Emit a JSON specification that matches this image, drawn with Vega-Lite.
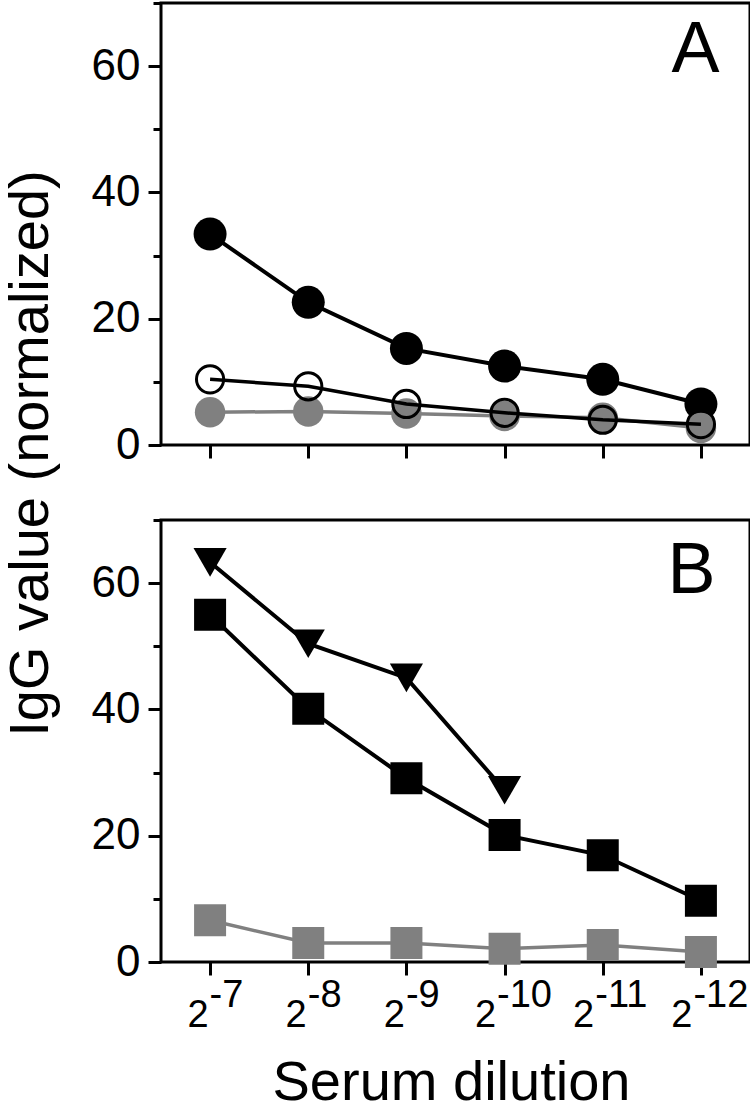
{
  "$schema": "https://vega.github.io/schema/vega-lite/v6.json",
  "padding": {"left": 0, "top": 0, "right": 0, "bottom": 0},
  "background": "white",
  "config": {
    "font": "Liberation Sans",
    "view": {"stroke": "black", "strokeWidth": 3},
    "axis": {"grid": false, "domain": false, "tickColor": "black", "tickWidth": 3, "labelColor": "black", "labelFont": "Liberation Sans", "titleFont": "Liberation Sans", "titleColor": "black", "titleFontWeight": "normal", "labelOverlap": false, "labelFlush": false}
  },
  "datasets": {
    "A": [
      {"series": "filled", "dilution": 7, "value": 33.4},
      {"series": "filled", "dilution": 8, "value": 22.6},
      {"series": "filled", "dilution": 9, "value": 15.3},
      {"series": "filled", "dilution": 10, "value": 12.5},
      {"series": "filled", "dilution": 11, "value": 10.4},
      {"series": "filled", "dilution": 12, "value": 6.5},
      {"series": "grey", "dilution": 7, "value": 5.2},
      {"series": "grey", "dilution": 8, "value": 5.3},
      {"series": "grey", "dilution": 9, "value": 5.0},
      {"series": "grey", "dilution": 10, "value": 4.6},
      {"series": "grey", "dilution": 11, "value": 4.3},
      {"series": "grey", "dilution": 12, "value": 2.7},
      {"series": "open", "dilution": 7, "value": 10.4},
      {"series": "open", "dilution": 8, "value": 9.3},
      {"series": "open", "dilution": 9, "value": 6.5},
      {"series": "open", "dilution": 10, "value": 5.1},
      {"series": "open", "dilution": 11, "value": 4.0},
      {"series": "open", "dilution": 12, "value": 3.3}
    ],
    "B": [
      {"series": "square", "dilution": 7, "value": 55.0},
      {"series": "square", "dilution": 8, "value": 40.1},
      {"series": "square", "dilution": 9, "value": 29.1},
      {"series": "square", "dilution": 10, "value": 20.1},
      {"series": "square", "dilution": 11, "value": 16.9},
      {"series": "square", "dilution": 12, "value": 9.7},
      {"series": "triangle", "dilution": 7, "value": 63.3},
      {"series": "triangle", "dilution": 8, "value": 50.4},
      {"series": "triangle", "dilution": 9, "value": 45.0},
      {"series": "triangle", "dilution": 10, "value": 27.2},
      {"series": "greysquare", "dilution": 7, "value": 6.6},
      {"series": "greysquare", "dilution": 8, "value": 3.0},
      {"series": "greysquare", "dilution": 9, "value": 3.0},
      {"series": "greysquare", "dilution": 10, "value": 2.1},
      {"series": "greysquare", "dilution": 11, "value": 2.7},
      {"series": "greysquare", "dilution": 12, "value": 1.6}
    ]
  },
  "spacing": 75,
  "bounds": "flush",
  "vconcat": [
    {
      "width": 589,
      "height": 442,
      "data": {"name": "A"},
      "encoding": {
        "x": {"field": "dilution", "type": "quantitative", "scale": {"domain": [6.5, 12.5], "nice": false, "zero": false},
          "axis": {"values": [7, 8, 9, 10, 11, 12], "labels": false, "tickSize": 13, "title": null}},
        "y": {"field": "value", "type": "quantitative", "scale": {"domain": [0, 70], "nice": false},
          "axis": {"values": [0, 10, 20, 30, 40, 50, 60, 70],
            "labelExpr": "datum.value % 20 === 0 ? datum.label : ''",
            "labelFontSize": {"condition": {"test": "datum.value % 20 === 0", "value": 44}, "value": 0},
            "tickSize": {"condition": {"test": "datum.value % 20 === 0", "value": 13}, "value": 8},
            "labelPadding": 8,
            "title": "IgG value (normalized)", "titleFontSize": 56, "titleX": -114, "titleY": 450,
            "titleAngle": 270, "titleAlign": "center", "titleBaseline": "alphabetic"}}
      },
      "layer": [
        {"transform": [{"filter": "datum.series === 'filled'"}], "mark": {"type": "line", "color": "black", "strokeWidth": 4}},
        {"transform": [{"filter": "datum.series === 'filled'"}], "mark": {"type": "point", "shape": "circle", "filled": true, "color": "black", "size": 1089, "opacity": 1}},
        {"transform": [{"filter": "datum.series === 'grey'"}], "mark": {"type": "line", "color": "#808080", "strokeWidth": 3.5}},
        {"transform": [{"filter": "datum.series === 'grey'"}], "mark": {"type": "point", "shape": "circle", "filled": true, "color": "#808080", "size": 930, "opacity": 1}},
        {"transform": [{"filter": "datum.series === 'open'"}], "mark": {"type": "line", "color": "black", "strokeWidth": 3.5}},
        {"transform": [{"filter": "datum.series === 'open'"}], "mark": {"type": "point", "shape": "circle", "filled": false, "color": "black", "strokeWidth": 3, "size": 740, "opacity": 1}},
        {"transform": [{"filter": "datum.series === 'filled' && datum.dilution === 12"}],
          "mark": {"type": "text", "fontSize": 72, "align": "right", "baseline": "alphabetic", "color": "black", "font": "Liberation Sans"},
          "encoding": {"x": {"datum": 12.19, "type": "quantitative"}, "y": {"datum": 59.0, "type": "quantitative"}, "text": {"value": "A"}}}
      ]
    },
    {
      "width": 589,
      "height": 442,
      "data": {"name": "B"},
      "resolve": {"axis": {"x": "independent"}},
      "layer": [
        {
          "encoding": {
            "x": {"field": "dilution", "type": "quantitative", "scale": {"domain": [6.5, 12.5], "nice": false, "zero": false},
              "axis": {"orient": "bottom", "values": [7, 8, 9, 10, 11, 12], "tickSize": 13,
                "labelExpr": "'2'", "labelAlign": "right", "labelBaseline": "alphabetic", "labelFontSize": 38, "labelPadding": 51,
                "labelOffset": {"condition": {"test": "datum.value >= 10", "value": -9}, "value": -2},
                "title": "Serum dilution", "titleFontSize": 56, "titleX": 290, "titleY": 137, "titleAlign": "center", "titleBaseline": "alphabetic"}},
            "y": {"field": "value", "type": "quantitative", "scale": {"domain": [0, 70], "nice": false},
              "axis": {"values": [0, 10, 20, 30, 40, 50, 60, 70],
                "labelExpr": "datum.value % 20 === 0 ? datum.label : ''",
                "labelFontSize": {"condition": {"test": "datum.value % 20 === 0", "value": 44}, "value": 0},
                "tickSize": {"condition": {"test": "datum.value % 20 === 0", "value": 13}, "value": 8},
                "labelPadding": 8, "title": null}}
          },
          "layer": [
            {"transform": [{"filter": "datum.series === 'square'"}], "mark": {"type": "line", "color": "black", "strokeWidth": 4}},
            {"transform": [{"filter": "datum.series === 'square'"}], "mark": {"type": "point", "shape": "square", "filled": true, "color": "black", "size": 1024, "opacity": 1}},
            {"transform": [{"filter": "datum.series === 'triangle'"}], "mark": {"type": "line", "color": "black", "strokeWidth": 4}},
            {"transform": [{"filter": "datum.series === 'triangle'"}], "mark": {"type": "point", "shape": "triangle-down", "filled": true, "color": "black", "size": 1100, "opacity": 1}},
            {"transform": [{"filter": "datum.series === 'greysquare'"}], "mark": {"type": "line", "color": "#808080", "strokeWidth": 3.5}},
            {"transform": [{"filter": "datum.series === 'greysquare'"}], "mark": {"type": "point", "shape": "square", "filled": true, "color": "#808080", "size": 1024, "opacity": 1}},
            {"transform": [{"filter": "datum.series === 'square' && datum.dilution === 12"}],
              "mark": {"type": "text", "fontSize": 72, "align": "right", "baseline": "alphabetic", "color": "black", "font": "Liberation Sans"},
              "encoding": {"x": {"datum": 12.15, "type": "quantitative"}, "y": {"datum": 58.4, "type": "quantitative"}, "text": {"value": "B"}}}
          ]
        },
        {
          "mark": {"type": "point", "opacity": 0},
          "encoding": {
            "x": {"field": "dilution", "type": "quantitative", "scale": {"domain": [6.5, 12.5], "nice": false, "zero": false},
              "axis": {"orient": "bottom", "values": [7, 8, 9, 10, 11, 12], "ticks": false, "tickSize": 0, "domain": false,
                "labelExpr": "'-' + datum.value", "labelAlign": "left", "labelBaseline": "alphabetic", "labelFontSize": 38, "labelPadding": 44,
                "labelOffset": {"condition": {"test": "datum.value >= 10", "value": -8}, "value": -1},
                "title": null}}
          }
        }
      ]
    }
  ]
}
